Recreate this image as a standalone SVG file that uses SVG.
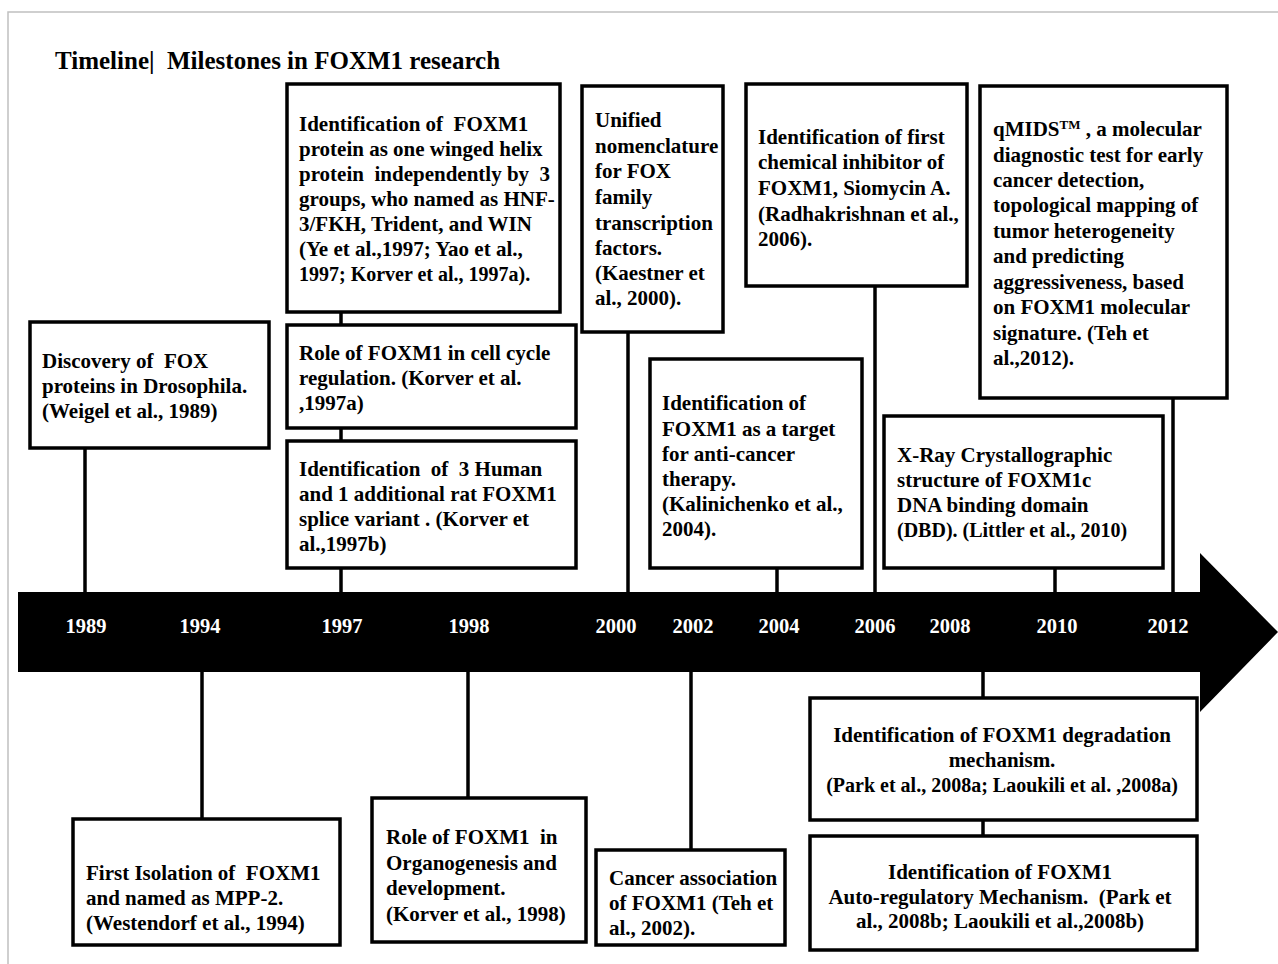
<svg xmlns="http://www.w3.org/2000/svg" width="1278" height="964" viewBox="0 0 1278 964">
<style>
.frame{fill:none;stroke:#c0c0c0;stroke-width:1.5}
.box{fill:#fff;stroke:#000;stroke-width:3.5}
.ln{stroke:#000;stroke-width:3.5;fill:none}
.t{font-family:"Liberation Serif","Times New Roman",serif;font-weight:bold;font-size:21px;fill:#000}
.s{font-size:20px}
.c{text-anchor:middle}
.yr{font-family:"Liberation Serif","Times New Roman",serif;font-weight:bold;font-size:20.5px;fill:#fff;text-anchor:middle}
.title{font-family:"Liberation Serif","Times New Roman",serif;font-weight:bold;font-size:25px;fill:#000}
</style>
<rect class="frame" x="8" y="12" width="1290" height="970"/>
<text class="title" x="55" y="69" xml:space="preserve">Timeline|  Milestones in FOXM1 research</text>

<g id="connectors">
<line class="ln" x1="85" y1="448" x2="85" y2="594"/>
<line class="ln" x1="341" y1="312" x2="341" y2="594"/>
<line class="ln" x1="628" y1="332" x2="628" y2="594"/>
<line class="ln" x1="777" y1="568" x2="777" y2="594"/>
<line class="ln" x1="875" y1="286" x2="875" y2="594"/>
<line class="ln" x1="1055" y1="568" x2="1055" y2="594"/>
<line class="ln" x1="1173" y1="398" x2="1173" y2="594"/>
<line class="ln" x1="202" y1="670" x2="202" y2="819"/>
<line class="ln" x1="468" y1="670" x2="468" y2="798"/>
<line class="ln" x1="691" y1="670" x2="691" y2="850"/>
<line class="ln" x1="983" y1="670" x2="983" y2="836"/>
</g>

<g id="timeline">
<path d="M18 592 H1200 V553 L1278 632 L1200 712 V672 H18 Z" fill="#000"/>
<text class="yr" x="86" y="633">1989</text>
<text class="yr" x="200" y="633">1994</text>
<text class="yr" x="342" y="633">1997</text>
<text class="yr" x="469" y="633">1998</text>
<text class="yr" x="616" y="633">2000</text>
<text class="yr" x="693" y="633">2002</text>
<text class="yr" x="779" y="633">2004</text>
<text class="yr" x="875" y="633">2006</text>
<text class="yr" x="950" y="633">2008</text>
<text class="yr" x="1057" y="633">2010</text>
<text class="yr" x="1168" y="633">2012</text>
</g>

<g id="n1989">
<rect class="box" x="30" y="322" width="239" height="126"/>
<text class="t" x="42" xml:space="preserve"><tspan x="42" y="368">Discovery of  FOX</tspan><tspan x="42" y="393">proteins in Drosophila.</tspan><tspan x="42" y="418">(Weigel et al., 1989)</tspan></text>
</g>

<g id="n1997a">
<rect class="box" x="287" y="84" width="273" height="228"/>
<text class="t" xml:space="preserve"><tspan x="299" y="131">Identification of  FOXM1</tspan><tspan x="299" y="156">protein as one winged helix</tspan><tspan x="299" y="181">protein  independently by  3</tspan><tspan x="299" y="206">groups, who named as HNF-</tspan><tspan x="299" y="231">3/FKH, Trident, and WIN</tspan><tspan x="299" y="256">(Ye et al.,1997; Yao et al.,</tspan><tspan class="s" x="299" y="281">1997; Korver et al., 1997a).</tspan></text>
</g>

<g id="n1997b">
<rect class="box" x="287" y="325" width="289" height="103"/>
<text class="t" xml:space="preserve"><tspan x="299" y="360">Role of FOXM1 in cell cycle</tspan><tspan x="299" y="385">regulation. (Korver et al.</tspan><tspan x="299" y="410">,1997a)</tspan></text>
</g>

<g id="n1997c">
<rect class="box" x="287" y="441" width="289" height="127"/>
<text class="t" xml:space="preserve"><tspan x="299" y="476">Identification  of  3 Human</tspan><tspan x="299" y="501">and 1 additional rat FOXM1</tspan><tspan x="299" y="526">splice variant . (Korver et</tspan><tspan x="299" y="551">al.,1997b)</tspan></text>
</g>

<g id="n2000">
<rect class="box" x="582" y="86" width="141" height="246"/>
<text class="t"><tspan x="595" y="127">Unified</tspan><tspan x="595" y="153">nomenclature</tspan><tspan x="595" y="178">for FOX</tspan><tspan x="595" y="204">family</tspan><tspan x="595" y="230">transcription</tspan><tspan x="595" y="255">factors.</tspan><tspan x="595" y="280">(Kaestner et</tspan><tspan x="595" y="305">al., 2000).</tspan></text>
</g>

<g id="n2006">
<rect class="box" x="746" y="84" width="221" height="202"/>
<text class="t"><tspan x="758" y="144">Identification of first</tspan><tspan x="758" y="169">chemical inhibitor of</tspan><tspan x="758" y="195">FOXM1, Siomycin A.</tspan><tspan x="758" y="221">(Radhakrishnan et al.,</tspan><tspan x="758" y="246">2006).</tspan></text>
</g>

<g id="n2012">
<rect class="box" x="980" y="86" width="247" height="312"/>
<text class="t" xml:space="preserve"><tspan x="993" y="136">qMIDS<tspan font-size="13" dy="-7">TM</tspan><tspan dy="7"> , a molecular</tspan></tspan><tspan x="993" y="162">diagnostic test for early</tspan><tspan x="993" y="187">cancer detection,</tspan><tspan x="993" y="212">topological mapping of</tspan><tspan x="993" y="238">tumor heterogeneity</tspan><tspan x="993" y="263">and predicting</tspan><tspan x="993" y="289">aggressiveness, based</tspan><tspan x="993" y="314">on FOXM1 molecular</tspan><tspan x="993" y="340">signature. (Teh et</tspan><tspan x="993" y="365">al.,2012).</tspan></text>
</g>

<g id="n2004">
<rect class="box" x="650" y="359" width="212" height="209"/>
<text class="t"><tspan x="662" y="410">Identification of</tspan><tspan x="662" y="436">FOXM1 as a target</tspan><tspan x="662" y="461">for anti-cancer</tspan><tspan x="662" y="486">therapy.</tspan><tspan x="662" y="511">(Kalinichenko et al.,</tspan><tspan x="662" y="536">2004).</tspan></text>
</g>

<g id="n2010">
<rect class="box" x="884" y="416" width="279" height="152"/>
<text class="t"><tspan x="897" y="462">X-Ray Crystallographic</tspan><tspan x="897" y="487">structure of FOXM1c</tspan><tspan x="897" y="512">DNA binding domain</tspan><tspan class="s" x="897" y="537">(DBD). (Littler et al., 2010)</tspan></text>
</g>

<g id="n1994">
<rect class="box" x="73" y="819" width="267" height="126"/>
<text class="t" xml:space="preserve"><tspan x="86" y="880">First Isolation of  FOXM1</tspan><tspan x="86" y="905">and named as MPP-2.</tspan><tspan x="86" y="930">(Westendorf et al., 1994)</tspan></text>
</g>

<g id="n1998">
<rect class="box" x="372" y="798" width="214" height="144"/>
<text class="t" xml:space="preserve"><tspan x="386" y="844">Role of FOXM1  in</tspan><tspan x="386" y="870">Organogenesis and</tspan><tspan x="386" y="895">development.</tspan><tspan x="386" y="921">(Korver et al., 1998)</tspan></text>
</g>

<g id="n2002">
<rect class="box" x="596" y="850" width="189" height="95"/>
<text class="t"><tspan x="609" y="885">Cancer association</tspan><tspan x="609" y="910">of FOXM1 (Teh et</tspan><tspan x="609" y="935">al., 2002).</tspan></text>
</g>

<g id="n2008a">
<rect class="box" x="810" y="698" width="387" height="122"/>
<text class="t c" xml:space="preserve"><tspan x="1002" y="742">Identification of FOXM1 degradation</tspan><tspan x="1002" y="767">mechanism.</tspan><tspan class="s" x="1002" y="792">(Park et al., 2008a; Laoukili et al. ,2008a)</tspan></text>
</g>

<g id="n2008b">
<rect class="box" x="810" y="836" width="387" height="114"/>
<text class="t c" xml:space="preserve"><tspan x="1000" y="879">Identification of FOXM1</tspan><tspan x="1000" y="904">Auto-regulatory Mechanism.  (Park et</tspan><tspan x="1000" y="928">al., 2008b; Laoukili et al.,2008b)</tspan></text>
</g>
</svg>
